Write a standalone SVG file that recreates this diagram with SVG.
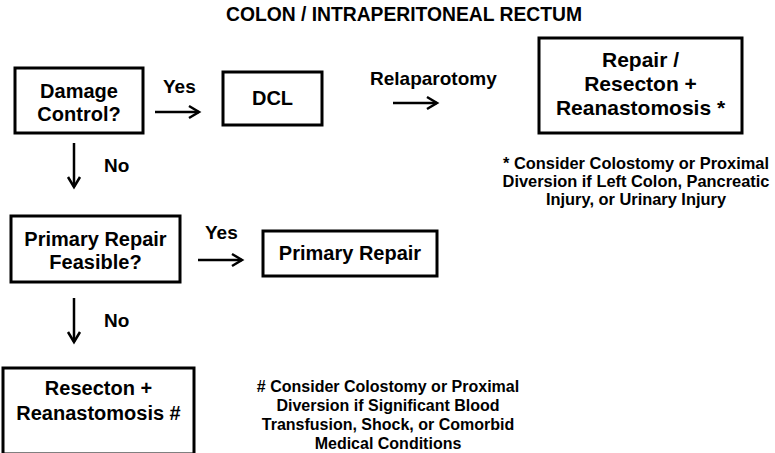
<svg xmlns="http://www.w3.org/2000/svg" width="775" height="453" viewBox="0 0 775 453">
  <style>
    text { font-family: "Liberation Sans", Arial, sans-serif; font-weight: bold; fill: #000; }
    .box { fill: #fff; stroke: #000; stroke-width: 3; }
    .lbl { font-size: 20px; text-anchor: middle; }
    .big { font-size: 21px; text-anchor: middle; }
    .edge { font-size: 19px; }
    .note { font-size: 16px; text-anchor: middle; }
    .note-top { font-size: 16.4px; text-anchor: middle; }
    .wire { fill: none; stroke: #000; stroke-width: 2.5; }
    .head { fill: none; stroke: #000; stroke-width: 2.5; stroke-linejoin: miter; }
  </style>
  <rect width="775" height="453" fill="#fff"/>

  <text x="404" y="21" style="font-size:19.3px;text-anchor:middle">COLON / INTRAPERITONEAL RECTUM</text>

  <g id="damage-control">
    <rect class="box" x="15" y="68" width="128" height="65"/>
    <text class="lbl" x="79" y="98">Damage</text>
    <text class="lbl" x="79" y="121">Control?</text>
  </g>

  <g id="dcl">
    <rect class="box" x="223" y="72" width="99" height="53"/>
    <text class="lbl" x="272.5" y="105">DCL</text>
  </g>

  <g id="repair-resection">
    <rect class="box" x="539" y="38" width="203" height="95"/>
    <text class="big" x="640.5" y="67">Repair /</text>
    <text class="big" x="640.5" y="91">Resecton +</text>
    <text class="big" x="640.5" y="115">Reanastomosis *</text>
  </g>

  <g id="primary-feasible">
    <rect class="box" x="11" y="216" width="169" height="66"/>
    <text class="lbl" x="95.5" y="246">Primary Repair</text>
    <text class="lbl" x="95.5" y="269">Feasible?</text>
  </g>

  <g id="primary-repair">
    <rect class="box" x="263" y="231" width="174" height="45"/>
    <text class="lbl" x="350" y="260">Primary Repair</text>
  </g>

  <g id="resection">
    <rect class="box" x="3" y="368" width="191" height="86"/>
    <text class="lbl" x="98.5" y="395">Resecton +</text>
    <text class="lbl" x="98.5" y="420">Reanastomosis #</text>
  </g>

  <g id="notes">
    <text class="note-top" x="636" y="169">* Consider Colostomy or Proximal</text>
    <text class="note-top" x="636" y="187">Diversion if Left Colon, Pancreatic</text>
    <text class="note-top" x="636" y="205">Injury, or Urinary Injury</text>
    <text class="note" x="388" y="392"># Consider Colostomy or Proximal</text>
    <text class="note" x="388" y="411">Diversion if Significant Blood</text>
    <text class="note" x="388" y="430">Transfusion, Shock, or Comorbid</text>
    <text class="note" x="388" y="449">Medical Conditions</text>
  </g>

  <g id="connectors">
    <line class="wire" x1="155" y1="112" x2="199" y2="112"/>
    <polyline class="head" points="189,106 199,112 189,118"/>
    <text class="edge" x="163" y="93">Yes</text>

    <line class="wire" x1="393" y1="103" x2="437" y2="103"/>
    <polyline class="head" points="427,97 437,103 427,109"/>
    <text class="edge" x="370" y="85">Relaparotomy</text>

    <line class="wire" x1="74" y1="143" x2="74" y2="187"/>
    <polyline class="head" points="68,177 74,187 80,177"/>
    <text class="edge" x="104" y="172">No</text>

    <line class="wire" x1="198" y1="260" x2="242" y2="260"/>
    <polyline class="head" points="232,254 242,260 232,266"/>
    <text class="edge" x="205" y="239">Yes</text>

    <line class="wire" x1="74" y1="298" x2="74" y2="342"/>
    <polyline class="head" points="68,332 74,342 80,332"/>
    <text class="edge" x="104" y="327">No</text>
  </g>
</svg>
